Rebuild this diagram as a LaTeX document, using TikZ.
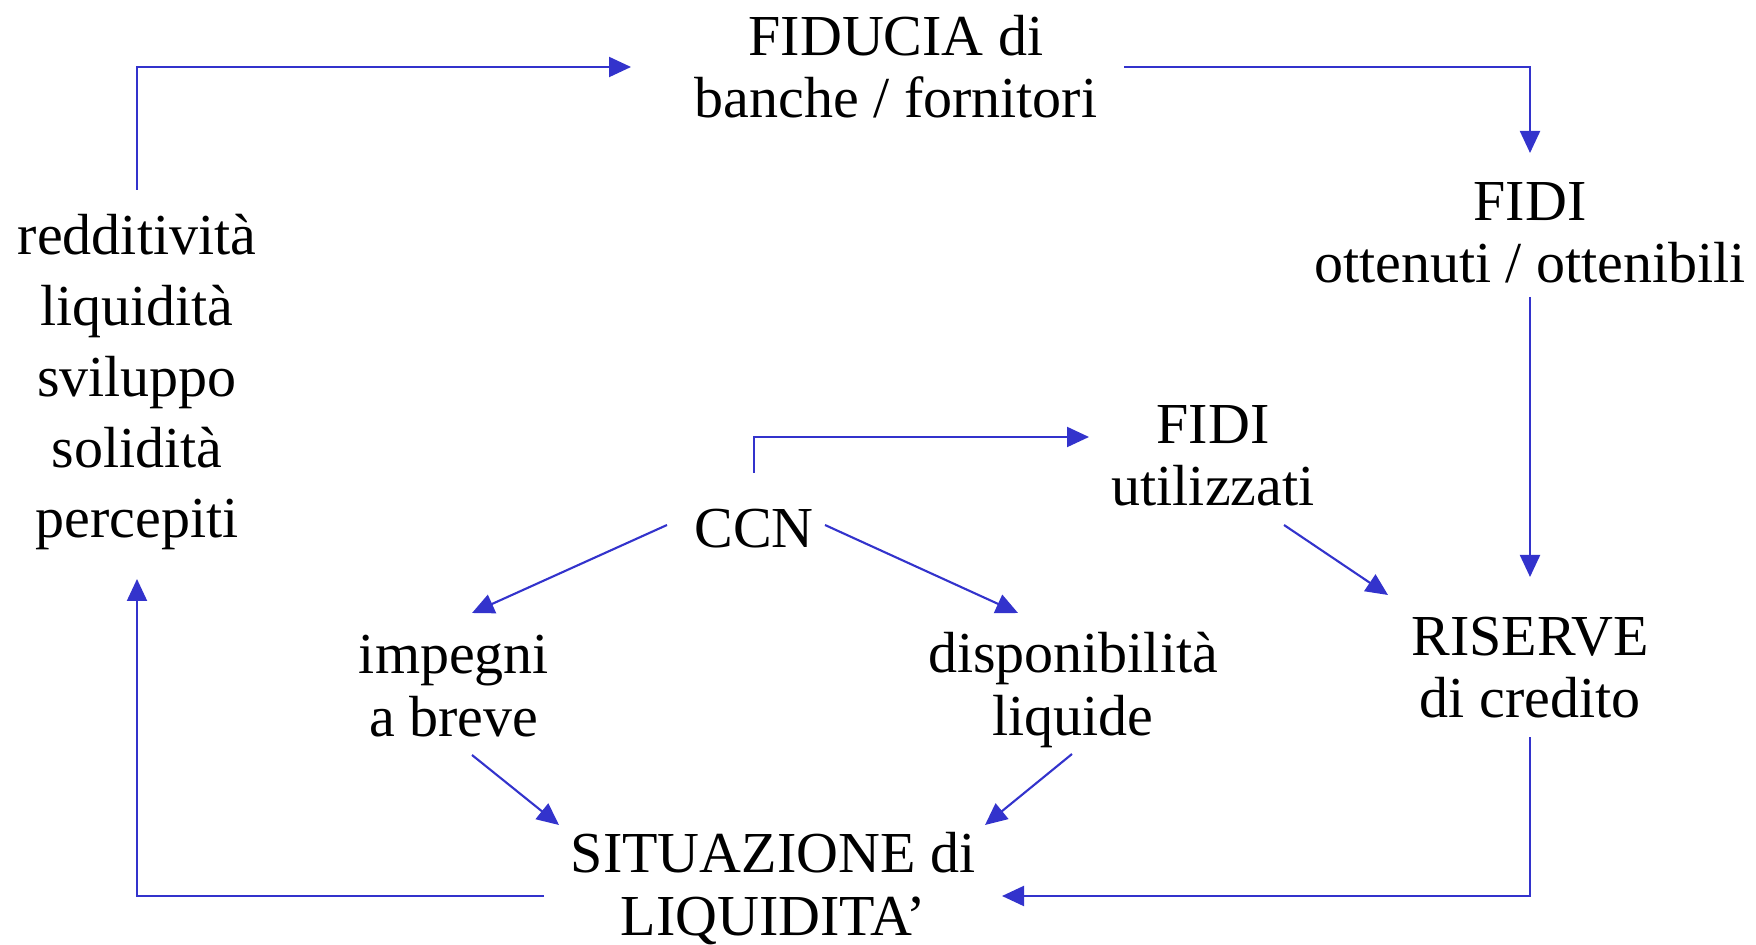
\documentclass[tikz,border=0pt]{standalone}
\usepackage{fontspec}
\setmainfont{Liberation Serif}
\usepackage{xcolor}
\usepackage{tikz}
\usetikzlibrary{arrows.meta}
\definecolor{linkblue}{RGB}{51,51,204}

\begin{document}
\begin{tikzpicture}[line width=0.6pt, >={Triangle[length=0.22cm,width=0.2cm]},
   box/.style={align=center, inner sep=0pt, anchor=base, font=\fontsize{16.5}{17.9}\selectfont},
   link/.style={->, color=linkblue}]
   \useasboundingbox (0,0) rectangle (17.56,-9.45);

   % nodes sit on the baseline of their last line
   \node [box] (fid) at (8.96 , -1.18) {FIDUCIA di\\banche / fornitori};
   \node [box] (fidi) at (15.30 , -2.83) {FIDI\\ottenuti / ottenibili};
   \node [box, font=\fontsize{16.5}{20.2}\selectfont] (perf) at (1.37 , -5.38) {redditività\\liquidità\\sviluppo\\solidità\\percepiti};
   \node [box] (ccn) at (7.54 , -5.48) {CCN};
   \node [box] (util) at (12.13 , -5.06) {FIDI\\utilizzati};
   \node [box] (ris) at (15.30 , -7.18) {RISERVE\\di credito};
   \node [box] (imp) at (4.54 , -7.36) {impegni\\a breve};
   \node [box] (disp) at (10.73 , -7.35) {disponibilità\\liquide};
   \node [box] (sit) at (7.73 , -9.35) {SITUAZIONE di\\LIQUIDITA’};

   % outer loop
   \draw [link] ([yshift=3.48cm]perf.base) |- ([xshift=-2.65cm, yshift=0.51cm]fid.base);
   \draw [link] ([xshift=2.28cm, yshift=0.51cm]fid.base) -| ([yshift=1.30cm]fidi.base);
   \draw [link] ([yshift=-0.14cm]fidi.base) -- ([yshift=1.41cm]ris.base);
   \draw [link] ([yshift=-0.19cm]ris.base) |- ([xshift=2.29cm, yshift=0.39cm]sit.base);
   \draw [link] ([xshift=-2.29cm, yshift=0.39cm]sit.base) -| ([yshift=-0.41cm]perf.base);

   % inner part
   \draw [link] ([yshift=0.75cm]ccn.base) |- ([xshift=-1.24cm, yshift=0.69cm]util.base);
   \draw [link] ([xshift=-0.87cm, yshift=0.23cm]ccn.base) -- ([xshift=0.18cm, yshift=1.23cm]imp.base);
   \draw [link] ([xshift=0.71cm, yshift=0.23cm]ccn.base) -- ([xshift=-0.55cm, yshift=1.22cm]disp.base);
   \draw [link] ([xshift=0.71cm, yshift=-0.19cm]util.base) -- ([xshift=-1.42cm, yshift=1.23cm]ris.base);
   \draw [link] ([xshift=0.18cm, yshift=-0.19cm]imp.base) -- ([xshift=-2.14cm, yshift=1.10cm]sit.base);
   \draw [link] ([xshift=-0.01cm, yshift=-0.19cm]disp.base) -- ([xshift=2.12cm, yshift=1.10cm]sit.base);
\end{tikzpicture}
\end{document}
